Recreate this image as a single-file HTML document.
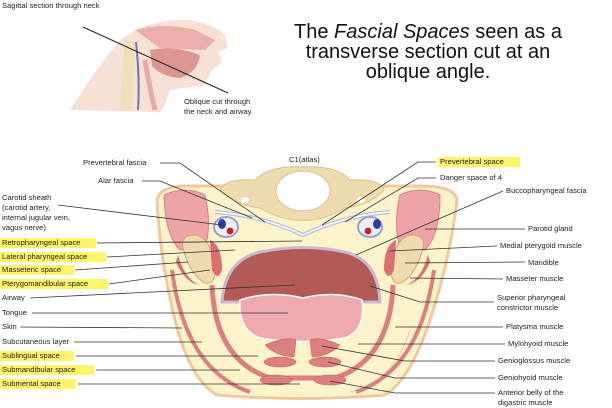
<!DOCTYPE html>
<html><head><meta charset="utf-8"><style>
html,body{margin:0;padding:0;background:#fff;width:612px;height:408px;overflow:hidden}
svg{display:block;font-family:"Liberation Sans",sans-serif}
.l{font-size:7.6px;fill:#222}
.h{fill:#fff46a}
line,polyline{stroke:#333;stroke-width:.8;fill:none}
</style></head><body>
<svg width="612" height="408" viewBox="0 0 612 408">
<text x="2" y="8" class="l">Sagittal section through neck</text>
<!-- sagittal head sketch -->
<g opacity=".9">
<path d="M70 110 Q95 70 120 40 Q150 18 190 20 Q215 25 225 35 L228 48 L218 52 L222 62 L212 70 L205 85 L170 90 L165 105 L160 112 Z" fill="#f7ddd2"/>
<path d="M135 30 Q165 22 195 30 L215 40 L205 50 L160 48 Z" fill="#e9a6a0"/>
<path d="M150 50 Q175 45 200 55 Q198 72 180 78 Q160 76 152 66 Z" fill="#d98a86"/>
<path d="M125 40 L135 42 L132 110 L120 110 Z" fill="#eedcb3"/>
<path d="M136 42 Q140 80 138 110" stroke="#5a6aa8" stroke-width="2" fill="none"/>
<path d="M145 60 Q150 90 155 110" stroke="#e6a29a" stroke-width="5" fill="none"/>
</g>
<line x1="83" y1="27" x2="228" y2="93" style="stroke:#222;stroke-width:1"/>
<text x="184" y="104" class="l">Oblique cut through</text>
<text x="184" y="114" class="l">the neck and airway</text>
<g font-size="20" fill="#111" text-anchor="middle">
<text x="428" y="38">The <tspan font-style="italic">Fascial Spaces</tspan> seen as a</text>
<text x="428" y="58">transverse section cut at an</text>
<text x="428" y="78">oblique angle.</text>
</g>
<!-- neck section -->
<path d="M157 200 Q160 186 185 186 L420 186 Q455 186 457 200 Q450 260 430 320 Q410 380 385 395 Q300 402 217 395 Q190 380 175 320 Q160 260 157 200 Z" fill="#fbf3c9" stroke="#f0c9a0" stroke-width="3"/>
<path d="M190 330 Q205 380 250 392 M410 330 Q395 380 350 392" stroke="#f0c9a0" stroke-width="1" fill="none"/>
<!-- vertebra -->
<path d="M220 190 Q225 178 255 180 Q270 165 303 167 Q336 165 350 180 Q380 178 384 190 Q370 205 345 208 Q320 222 303 220 Q285 222 260 208 Q235 205 220 190 Z" fill="#eedcb0" stroke="#d9c08a"/>
<ellipse cx="303" cy="191" rx="27" ry="20" fill="#fff" stroke="#d9c08a"/>
<ellipse cx="245" cy="200" rx="4" ry="3" fill="#fff"/><ellipse cx="361" cy="200" rx="4" ry="3" fill="#fff"/>
<!-- fascia lines -->
<path d="M215 212 Q260 215 303 235 Q346 215 390 212" stroke="#b9bcd9" stroke-width="4" fill="none"/>
<path d="M215 212 Q260 215 303 235 Q346 215 390 212" stroke="#fff" stroke-width="1.5" fill="none"/>
<!-- parotid -->
<path d="M164 195 Q185 185 205 195 Q212 225 205 248 L180 250 Q165 235 164 195Z" fill="#eea3a6" stroke="#d98089"/>
<path d="M400 195 Q420 185 440 195 Q440 235 425 250 L400 248 Q393 225 400 195Z" fill="#eea3a6" stroke="#d98089"/>
<!-- carotid sheaths -->
<ellipse cx="226" cy="227" rx="12" ry="10" fill="#eef" stroke="#9aa0cc" stroke-width="2"/>
<ellipse cx="222" cy="224" rx="4" ry="5" fill="#2d3f9a"/><circle cx="230" cy="231" r="4" fill="#c0262a" stroke="#fff"/>
<ellipse cx="370" cy="227" rx="12" ry="10" fill="#eef" stroke="#9aa0cc" stroke-width="2"/>
<ellipse cx="377" cy="224" rx="4" ry="5" fill="#2d3f9a"/><circle cx="368" cy="231" r="4" fill="#c0262a" stroke="#fff"/>
<!-- mandible + muscles -->
<path d="M183 248 Q180 235 195 235 Q212 238 215 270 Q215 285 205 283 Q190 275 183 248Z" fill="#eedcb0" stroke="#d9a070"/>
<path d="M210 240 Q222 245 222 270 Q218 282 212 270 Z" fill="#d97070"/>
<path d="M178 255 Q185 280 200 285 Q185 283 176 262Z" fill="#d97070"/>
<path d="M423 248 Q426 235 411 235 Q394 238 391 270 Q391 285 401 283 Q416 275 423 248Z" fill="#eedcb0" stroke="#d9a070"/>
<path d="M396 240 Q384 245 384 270 Q388 282 394 270 Z" fill="#d97070"/>
<path d="M428 255 Q421 280 406 285 Q421 283 430 262Z" fill="#d97070"/>
<!-- pharyngeal constrictor / mylohyoid band -->
<path d="M212 285 Q215 360 270 378 L335 378 Q390 360 393 285" stroke="#d98080" stroke-width="5" fill="none"/>
<path d="M172 270 Q185 370 250 392 M434 270 Q420 370 356 392" stroke="#d98080" stroke-width="4" fill="none"/>
<!-- airway -->
<path d="M222 302 Q225 260 260 252 Q303 243 345 252 Q378 260 380 302 Z" fill="#b15a56" stroke="#c9b9d0" stroke-width="3"/>
<!-- tongue -->
<path d="M240 300 Q270 290 303 298 Q336 290 362 300 Q366 330 345 338 Q303 345 260 338 Q238 330 240 300Z" fill="#eeaab0" stroke="#fff" stroke-width="1.5"/>
<!-- bottom muscles -->
<g fill="#db7f7f" stroke="#c05858" stroke-width=".5">
<path d="M265 345 Q285 336 296 340 L294 357 Q275 356 265 345Z"/><path d="M340 345 Q320 336 310 340 L312 357 Q330 356 340 345Z"/>
<ellipse cx="280" cy="362" rx="16" ry="5"/><ellipse cx="325" cy="362" rx="16" ry="5"/>
<ellipse cx="276" cy="380" rx="16" ry="5"/><ellipse cx="330" cy="380" rx="16" ry="5"/>
</g>
<!-- left labels -->
<g class="l">
<text x="83" y="165" class="l">Prevertebral fascia</text>
<text x="98" y="183" class="l">Alar fascia</text>
<text x="2" y="200" class="l">Carotid sheath</text>
<text x="2" y="210" class="l">(carotid artery,</text>
<text x="2" y="220" class="l">internal jugular vein,</text>
<text x="2" y="230" class="l">vagus nerve)</text>
</g>
<rect class="h" x="0" y="238" width="96" height="10"/><text x="2" y="245" class="l">Retropharyngeal space</text>
<rect class="h" x="0" y="252" width="106" height="10"/><text x="2" y="259" class="l">Lateral pharyngeal space</text>
<rect class="h" x="0" y="265" width="74" height="10"/><text x="2" y="272" class="l">Masseteric space</text>
<rect class="h" x="0" y="279" width="108" height="10"/><text x="2" y="286" class="l">Pterygomandibular space</text>
<text x="2" y="300" class="l">Airway</text>
<text x="2" y="315" class="l">Tongue</text>
<text x="2" y="329" class="l">Skin</text>
<text x="2" y="344" class="l">Subcutaneous layer</text>
<rect class="h" x="0" y="351" width="74" height="10"/><text x="2" y="358" class="l">Sublingual space</text>
<rect class="h" x="0" y="365" width="94" height="10"/><text x="2" y="372" class="l">Submandibular space</text>
<rect class="h" x="0" y="379" width="76" height="10"/><text x="2" y="386" class="l">Submental space</text>
<!-- right labels -->
<rect class="h" x="438" y="157" width="82" height="10"/><text x="440" y="164" class="l">Prevertebral space</text>
<text x="440" y="180" class="l">Danger space of 4</text>
<text x="506" y="193" class="l">Buccopharyngeal fascia</text>
<text x="528" y="231" class="l">Parotid gland</text>
<text x="500" y="248" class="l">Medial pterygoid muscle</text>
<text x="528" y="265" class="l">Mandible</text>
<text x="506" y="281" class="l">Masseter muscle</text>
<text x="497" y="300" class="l">Superior pharyngeal</text>
<text x="497" y="310" class="l">constrictor muscle</text>
<text x="506" y="329" class="l">Platysma muscle</text>
<text x="508" y="346" class="l">Mylohyoid muscle</text>
<text x="498" y="363" class="l">Genioglossus muscle</text>
<text x="498" y="380" class="l">Geniohyoid muscle</text>
<text x="498" y="395" class="l">Anterior belly of the</text>
<text x="498" y="405" class="l">digastric muscle</text>
<text x="289" y="162" class="l">C1(atlas)</text>
<!-- leader lines -->
<polyline points="160,163 180,163 265,222"/>
<polyline points="142,181 160,181 252,218"/>
<line x1="58" y1="205" x2="222" y2="225"/>
<line x1="97" y1="243" x2="302" y2="241"/>
<line x1="107" y1="257" x2="235" y2="250"/>
<line x1="75" y1="270" x2="188" y2="262"/>
<line x1="109" y1="284" x2="210" y2="270"/>
<line x1="30" y1="298" x2="295" y2="285"/>
<line x1="32" y1="313" x2="288" y2="313"/>
<line x1="20" y1="327" x2="182" y2="328"/>
<line x1="74" y1="342" x2="202" y2="342"/>
<line x1="76" y1="356" x2="258" y2="356"/>
<line x1="96" y1="370" x2="240" y2="370"/>
<line x1="78" y1="384" x2="300" y2="384"/>
<polyline points="436,162 418,162 322,225"/>
<polyline points="436,178 418,178 345,222"/>
<line x1="503" y1="191" x2="356" y2="255"/>
<line x1="525" y1="229" x2="425" y2="229"/>
<line x1="497" y1="246" x2="390" y2="251"/>
<line x1="525" y1="262" x2="405" y2="263"/>
<line x1="503" y1="279" x2="410" y2="278"/>
<polyline points="494,302 420,302 370,286"/>
<line x1="503" y1="327" x2="395" y2="327"/>
<line x1="505" y1="344" x2="358" y2="344"/>
<polyline points="495,361 405,361 322,346"/>
<polyline points="495,378 395,378 328,362"/>
<polyline points="495,393 395,393 330,381"/>
</svg>
</body></html>
